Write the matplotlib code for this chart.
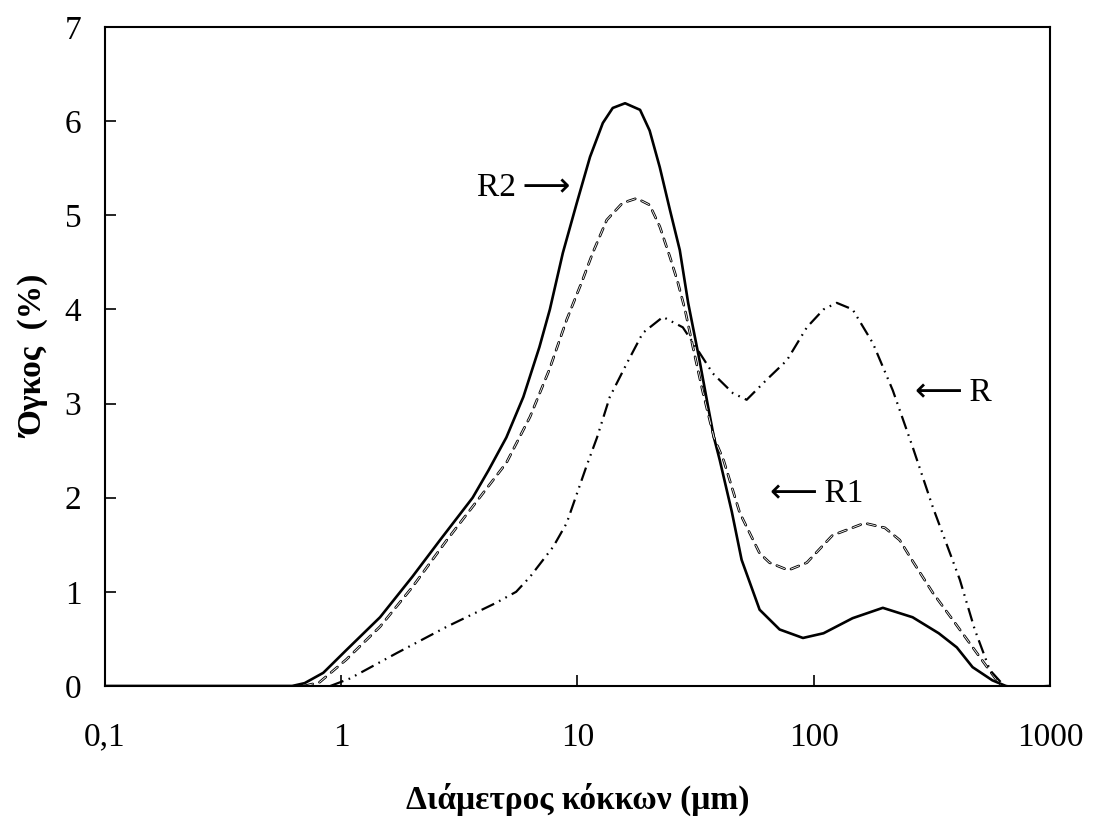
import matplotlib
matplotlib.use("Agg")
import matplotlib.pyplot as plt

plt.rcParams['font.family'] = ['Liberation Serif', 'DejaVu Sans']
plt.rcParams['lines.scale_dashes'] = False

# particle size distributions
r2_x = [0.1, 0.62, 0.7, 0.84, 1.05, 1.46, 2.0, 2.62, 3.6, 4.2, 5.0, 5.9, 6.9, 7.64, 8.67,
        9.93, 11.3, 12.8, 14.1, 15.9, 18.4, 20.2, 22.3, 24.6, 27.1, 29.4, 32.9, 35.5, 37.8,
        40, 45, 49.5, 59, 71.7, 90, 110, 146, 196, 262, 338, 403, 470, 570, 650, 720, 1000]
r2_y = [0, 0, 0.03, 0.14, 0.38, 0.73, 1.16, 1.55, 2.0, 2.29, 2.64, 3.07, 3.6, 4.0, 4.6,
        5.13, 5.62, 5.98, 6.14, 6.19, 6.12, 5.9, 5.51, 5.06, 4.63, 4.07, 3.45, 3.0, 2.64,
        2.4, 1.85, 1.34, 0.81, 0.6, 0.51, 0.56, 0.72, 0.83, 0.73, 0.56, 0.41, 0.2, 0.06, 0.0, -0.02, 0]

r1_x = [0.7, 0.81, 1.05, 1.46, 2.0, 2.8, 3.85, 5.0, 6.3, 7.6, 9.0, 10.5, 11.6, 13.3, 15.5,
        17.8, 20.2, 22.3, 24.6, 26.5, 28.5, 30.8, 33.8, 37.8, 41.5, 48.6, 59, 65, 78, 93.5,
        120, 164, 200, 231, 260, 319, 388, 490, 560, 620]
r1_y = [0, 0.04, 0.28, 0.63, 1.05, 1.55, 2.0, 2.37, 2.86, 3.36, 3.89, 4.31, 4.6, 4.95, 5.13,
        5.18, 5.11, 4.88, 4.56, 4.3, 4.0, 3.6, 3.14, 2.64, 2.4, 1.84, 1.41, 1.31, 1.23, 1.31,
        1.6, 1.73, 1.68, 1.55, 1.34, 0.99, 0.7, 0.35, 0.15, 0]

r_x = [0.9, 1.09, 1.72, 2.8, 4.5, 5.5, 6.3, 7.9, 9.0, 10.9, 12.1, 13.7, 16.2, 18.9, 23,
       27.9, 31.7, 37.4, 45.5, 52, 63, 77, 93.5, 110, 125, 146, 178, 216, 262, 319, 415,
       480, 556, 640]
r_y = [0, 0.08, 0.35, 0.63, 0.88, 1.0, 1.16, 1.48, 1.73, 2.33, 2.64, 3.07, 3.43, 3.75, 3.92,
       3.81, 3.6, 3.32, 3.11, 3.04, 3.25, 3.46, 3.81, 4.0, 4.07, 4.0, 3.64, 3.14, 2.54, 1.9, 1.13,
       0.6, 0.17, 0]

xticks = [0.1, 1, 10, 100, 1000]
xtick_labels = ['0,1', '1', '10', '100', '1000']
yticks = [0, 1, 2, 3, 4, 5, 6, 7]

fig = plt.figure(figsize=(10.93, 8.23), dpi=100)
ax = fig.add_axes([0.096, 0.1665, 0.8647, 0.8007])

ax.plot(r2_x, r2_y, color='black', lw=1.9, solid_joinstyle='round')

# hollow dashed line for R1: black dashes with a thin white core
ax.plot(r1_x, r1_y, color='black', lw=1.9, dashes=(6, 5), dash_capstyle='round')
ax.plot(r1_x, r1_y, color='white', lw=0.6, dashes=(6, 5), dash_capstyle='round')

ax.plot(r_x, r_y, color='black', lw=1.6, dashes=(10, 4, 1.2, 4, 1.2, 4))

ax.set_xscale('log')
ax.set_xlim(0.1, 1000)
ax.set_ylim(0, 7)
ax.set_xticks(xticks)
ax.set_xticklabels(xtick_labels)
ax.minorticks_off()
ax.set_yticks(yticks)
ax.tick_params(direction='in', length=8, width=1.2, labelsize=24)
ax.tick_params(axis='y', pad=17)
ax.tick_params(axis='x', pad=26)
for s in ax.spines.values():
    s.set_linewidth(1.5)

ax.set_xlabel('Διάμετρος κόκκων (μm)', fontsize=24, fontweight='bold', labelpad=22)
ax.set_ylabel('Όγκος  (%)', fontsize=24, fontweight='bold', labelpad=10)

ax.text(9.3, 5.29, 'R2\u2009\u27f6', fontsize=24, ha='right', va='center')
ax.text(268, 3.12, '\u27f5\u2009R', fontsize=24, ha='left', va='center')
ax.text(65.2, 2.04, '\u27f5\u2009R1', fontsize=24, ha='left', va='center')

fig.savefig('out.png', dpi=100)
